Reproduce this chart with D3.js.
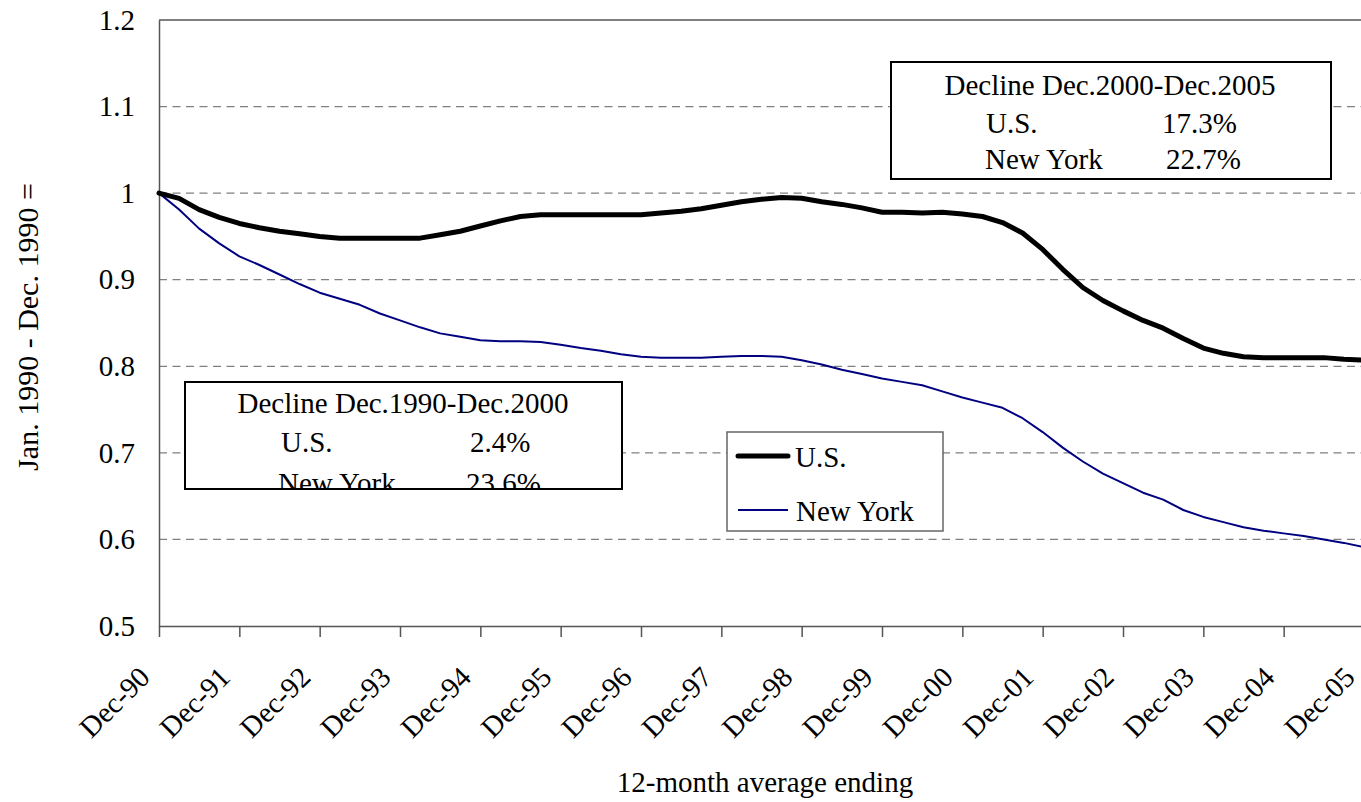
<!DOCTYPE html>
<html>
<head>
<meta charset="utf-8">
<script src="https://cdn.jsdelivr.net/npm/d3@7"></script>
<style>
  html, body { margin: 0; padding: 0; background: #fff; }
  svg { display: block; }
  text { font-family: "Liberation Serif", "Times New Roman", serif; fill: #000; }
</style>
</head>
<body>
<svg id="chart" width="1361" height="802"></svg>
<script>
// ---- data ----
// month offsets from Dec-1990 (quarterly readings)
const months = [0,3,6,9,12,15,18,21,24,27,30,33,36,39,42,45,48,51,54,57,60,63,66,69,72,75,78,81,84,87,90,93,96,99,102,105,108,111,114,117,120,123,126,129,132,135,138,141,144,147,150,153,156,159,162,165,168,171,174,177,180];
const usValues = [1.000,0.994,0.981,0.972,0.965,0.960,0.956,0.953,0.950,0.948,0.948,0.948,0.948,0.948,0.952,0.956,0.962,0.968,0.973,0.975,0.975,0.975,0.975,0.975,0.975,0.977,0.979,0.982,0.986,0.990,0.993,0.995,0.994,0.990,0.987,0.983,0.978,0.978,0.977,0.978,0.976,0.973,0.966,0.954,0.935,0.912,0.891,0.876,0.864,0.853,0.844,0.832,0.821,0.815,0.811,0.810,0.810,0.810,0.810,0.808,0.807];
const nyValues = [1.000,0.981,0.959,0.942,0.927,0.917,0.906,0.895,0.885,0.878,0.871,0.861,0.853,0.845,0.838,0.834,0.830,0.829,0.829,0.828,0.825,0.821,0.818,0.814,0.811,0.810,0.810,0.810,0.811,0.812,0.812,0.811,0.807,0.802,0.796,0.791,0.786,0.782,0.778,0.771,0.764,0.758,0.752,0.740,0.724,0.706,0.690,0.676,0.665,0.654,0.646,0.634,0.626,0.620,0.614,0.610,0.607,0.604,0.600,0.596,0.591];
const xTickMonths = [0,12,24,36,48,60,72,84,96,108,120,132,144,156,168,180];
const xTickLabels = ["Dec-90","Dec-91","Dec-92","Dec-93","Dec-94","Dec-95","Dec-96","Dec-97","Dec-98","Dec-99","Dec-00","Dec-01","Dec-02","Dec-03","Dec-04","Dec-05"];
const yTickValues = [0.5,0.6,0.7,0.8,0.9,1.0,1.1,1.2];
const yTickLabels = ["0.5","0.6","0.7","0.8","0.9","1","1.1","1.2"];
const seriesNames = ["U.S.","New York"];
const box1Lines = [["Decline Dec.2000-Dec.2005"],["U.S.","17.3%"],["New York","22.7%"]];
const box2Lines = [["Decline Dec.1990-Dec.2000"],["U.S.","2.4%"],["New York","23.6%"]];

// ---- layout ----
const svg = d3.select("#chart");
const FS = 29;
const pLeft = 159, pRight = 1364, pTop = 20, pBottom = 626;
const x = d3.scaleLinear().domain([0,180]).range([pLeft, pRight]);
const y = d3.scaleLinear().domain([0.5,1.2]).range([pBottom, pTop]);

// gridlines
svg.append("g").selectAll("line")
  .data(yTickValues.filter(v => v > 0.5 && v < 1.2))
  .join("line")
  .attr("x1", pLeft).attr("x2", pRight)
  .attr("y1", d => y(d)).attr("y2", d => y(d))
  .attr("stroke", "#808080").attr("stroke-width", 1.3)
  .attr("stroke-dasharray", "8,5.5");

// plot frame top
svg.append("line").attr("x1", pLeft).attr("x2", pRight).attr("y1", pTop).attr("y2", pTop)
  .attr("stroke", "#555").attr("stroke-width", 1.5);

// x axis
const xAxis = d3.axisBottom(x).tickValues(xTickMonths)
  .tickFormat((d,i) => xTickLabels[i]).tickSize(11).tickSizeOuter(0);
const gx = svg.append("g").attr("transform", `translate(0,${pBottom})`).call(xAxis);
gx.select(".domain").attr("stroke", "#555").attr("stroke-width", 1.5);
gx.selectAll(".tick line").attr("stroke", "#555").attr("stroke-width", 1.5);
gx.selectAll(".tick text")
  .attr("font-size", FS).attr("font-family", "Liberation Serif")
  .attr("text-anchor", "end")
  .attr("x", 0).attr("y", 0).attr("dy", 0)
  .attr("transform", "translate(-8,53) rotate(-45)");

// y axis
const yAxis = d3.axisLeft(y).tickValues(yTickValues)
  .tickFormat((d,i) => yTickLabels[i]).tickSize(0).tickPadding(24);
const gy = svg.append("g").attr("transform", `translate(${pLeft},0)`).call(yAxis);
gy.select(".domain").attr("stroke", "#555").attr("stroke-width", 1.5);
gy.selectAll(".tick text").attr("font-size", FS).attr("font-family", "Liberation Serif");

// lines
const line = d3.line().x(d => x(d.m)).y(d => y(d.v));
const usData = months.map((m,i) => ({m, v: usValues[i]}));
const nyData = months.map((m,i) => ({m, v: nyValues[i]}));
svg.append("path").datum(nyData).attr("d", line)
  .attr("fill", "none").attr("stroke", "#000080").attr("stroke-width", 2)
  .attr("stroke-linejoin", "round");
svg.append("path").datum(usData).attr("d", line)
  .attr("fill", "none").attr("stroke", "#000").attr("stroke-width", 5)
  .attr("stroke-linejoin", "round").attr("stroke-linecap", "round");

// axis titles
svg.append("text").attr("x", 765).attr("y", 792).attr("text-anchor", "middle")
  .attr("font-size", FS).text("12-month average ending");
svg.append("text").attr("transform", "translate(38,327) rotate(-90)")
  .attr("text-anchor", "middle").attr("font-size", 30)
  .text("Jan. 1990 - Dec. 1990 =");

// annotation boxes
function annBox(rx, ry, rw, rh, lines, cx, col1, col2, baselines, clipId) {
  const g = svg.append("g");
  const cp = svg.append("clipPath").attr("id", clipId);
  cp.append("rect").attr("x", rx).attr("y", ry).attr("width", rw).attr("height", rh);
  g.append("rect").attr("x", rx).attr("y", ry).attr("width", rw).attr("height", rh)
    .attr("fill", "#fff");
  const t = g.append("g").attr("clip-path", `url(#${clipId})`);
  t.append("text").attr("x", cx).attr("y", baselines[0]).attr("text-anchor", "middle")
    .attr("font-size", FS).text(lines[0][0]);
  [1,2].forEach(k => {
    t.append("text").attr("x", col1[k-1]).attr("y", baselines[k]).attr("font-size", FS).text(lines[k][0]);
    t.append("text").attr("x", col2[k-1]).attr("y", baselines[k]).attr("font-size", FS).text(lines[k][1]);
  });
  g.append("rect").attr("x", rx).attr("y", ry).attr("width", rw).attr("height", rh)
    .attr("fill", "none").attr("stroke", "#000").attr("stroke-width", 2);
}
annBox(891, 62, 440, 117, box1Lines, 1110, [986, 985], [1162, 1166], [95, 133, 169], "clip1");
annBox(185, 382, 437, 107, box2Lines, 403, [281, 278], [470, 466], [413, 452, 493], "clip2");

// legend
const lg = svg.append("g");
lg.append("rect").attr("x", 727).attr("y", 432).attr("width", 216).attr("height", 99)
  .attr("fill", "#fff").attr("stroke", "#666").attr("stroke-width", 1.5);
lg.append("line").attr("x1", 738).attr("x2", 788).attr("y1", 456).attr("y2", 456)
  .attr("stroke", "#000").attr("stroke-width", 5).attr("stroke-linecap", "round");
lg.append("line").attr("x1", 738).attr("x2", 788).attr("y1", 510).attr("y2", 510)
  .attr("stroke", "#000080").attr("stroke-width", 2);
lg.append("text").attr("x", 795).attr("y", 467).attr("font-size", FS).text(seriesNames[0]);
lg.append("text").attr("x", 796).attr("y", 521).attr("font-size", FS).text(seriesNames[1]);
</script>
</body>
</html>
